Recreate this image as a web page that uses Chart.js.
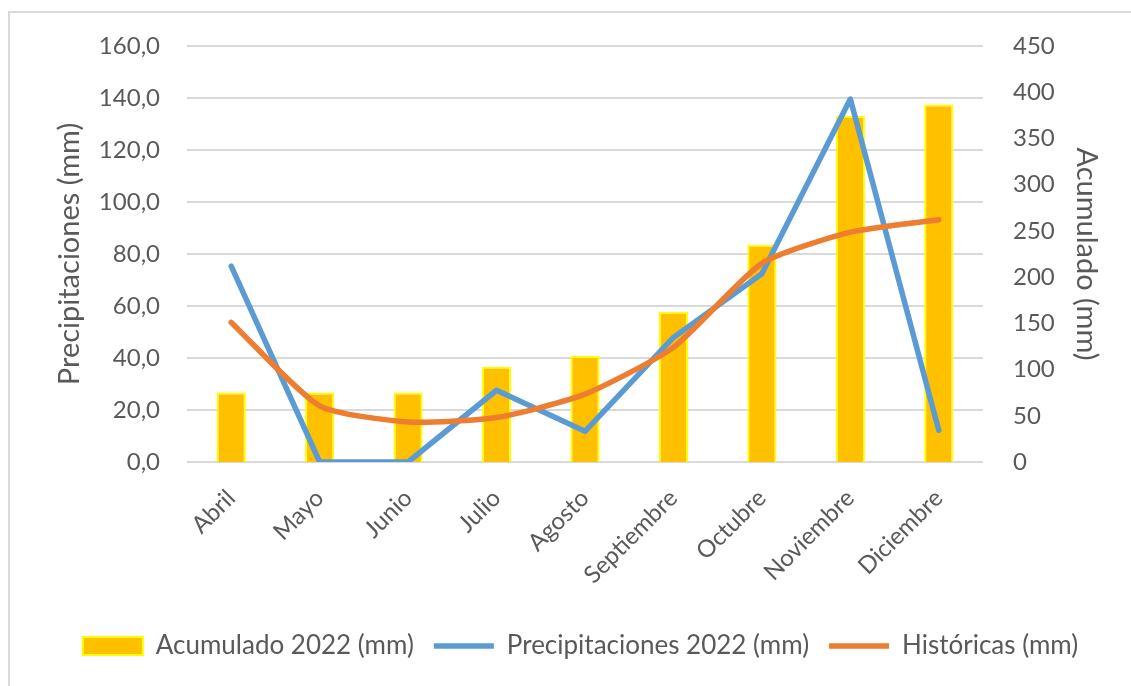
<!DOCTYPE html>
<html lang="es">
<head>
<meta charset="utf-8">
<title>Precipitaciones 2022</title>
<script src="https://cdn.jsdelivr.net/npm/chart.js@4/dist/chart.umd.min.js"></script>
<style>
  html, body { margin: 0; padding: 0; background: #ffffff; overflow: hidden; }
  #frame {
    position: absolute; left: 8px; top: 11px; width: 1140px; height: 700px;
    border: 2px solid #d9d9d9; box-sizing: border-box;
  }
  #wrap { position: absolute; left: 0; top: 0; width: 1131px; height: 686px; }
</style>
</head>
<body>
<div id="frame"></div>
<div id="wrap"><canvas id="chart" width="1131" height="686"></canvas></div>
<script>
// Meses del período
const meses = ['Abril', 'Mayo', 'Junio', 'Julio', 'Agosto', 'Septiembre', 'Octubre', 'Noviembre', 'Diciembre'];
// Precipitación mensual 2022 (mm)
const precipitaciones2022 = [75.3, 0, 0, 27.6, 11.8, 47.9, 72.4, 139.6, 12.2];
// Precipitación acumulada 2022 (mm)
const acumulado2022 = [75.3, 75.3, 75.3, 102.9, 114.7, 162.6, 235.0, 374.6, 386.8];
// Promedios históricos (mm)
const historicas = [53.7, 21.6, 15.4, 17.1, 26.1, 44.1, 76.4, 88.4, 93.2];

const FONT = 'Lato, "Noto Sans", sans-serif';
const GRIS = '#595959';
const SIZE = 24;
const SIZE_TITULO = 29;
const SIZE_LEYENDA = 26;

// Centra la leyenda respecto al área de trazado y no al lienzo completo
const desplazarLeyenda = {
  id: 'desplazarLeyenda',
  afterLayout(chart) {
    const l = chart.legend;
    if (l) { l.left += 15; l.right += 15; }
  }
};

new Chart(document.getElementById('chart'), {
  type: 'bar',
  plugins: [desplazarLeyenda],
  data: {
    labels: meses,
    datasets: [
      {
        type: 'bar',
        label: 'Acumulado 2022 (mm)',
        data: acumulado2022,
        yAxisID: 'yDer',
        backgroundColor: '#FFC000',
        borderColor: '#FFFF00',
        borderWidth: 2,
        categoryPercentage: 1,
        barPercentage: 0.33,
        pointStyle: 'rect',
        order: 3
      },
      {
        type: 'line',
        label: 'Precipitaciones 2022 (mm)',
        data: precipitaciones2022,
        yAxisID: 'yIzq',
        borderColor: '#5B9BD5',
        backgroundColor: '#5B9BD5',
        borderWidth: 5.5,
        borderCapStyle: 'round',
        borderJoinStyle: 'round',
        pointRadius: 0,
        pointHoverRadius: 0,
        tension: 0,
        pointStyle: 'line',
        order: 2
      },
      {
        type: 'line',
        label: 'Históricas (mm)',
        data: historicas,
        yAxisID: 'yIzq',
        borderColor: '#ED7D31',
        backgroundColor: '#ED7D31',
        borderWidth: 5.5,
        borderCapStyle: 'round',
        borderJoinStyle: 'round',
        pointRadius: 0,
        pointHoverRadius: 0,
        tension: 0.2,
        pointStyle: 'line',
        order: 1
      }
    ]
  },
  options: {
    responsive: false,
    animation: false,
    layout: { padding: { top: 46, left: 0, right: 0, bottom: 17 } },
    plugins: {
      tooltip: { enabled: false },
      legend: {
        position: 'bottom',
        labels: {
          usePointStyle: true,
          pointStyleWidth: 60,
          boxHeight: 18,
          padding: 20,
          color: GRIS,
          font: { family: FONT, size: SIZE_LEYENDA },
          sort: (a, b) => a.datasetIndex - b.datasetIndex
        }
      }
    },
    scales: {
      x: {
        grid: { display: false },
        border: { display: false },
        ticks: {
          color: GRIS,
          font: { family: FONT, size: SIZE },
          maxRotation: 45,
          minRotation: 45,
          padding: 14
        },
        afterFit: (s) => { s.height = 151; }
      },
      yIzq: {
        type: 'linear',
        position: 'left',
        min: 0,
        max: 160,
        border: { display: false },
        grid: { color: '#d9d9d9', lineWidth: 2, drawTicks: false },
        ticks: {
          stepSize: 20,
          padding: 27,
          color: GRIS,
          font: { family: FONT, size: SIZE },
          callback: (v) => v.toFixed(1).replace('.', ',')
        },
        title: {
          display: true,
          text: 'Precipitaciones (mm)',
          color: GRIS,
          font: { family: FONT, size: SIZE_TITULO },
          padding: { top: 52, bottom: 0 }
        },
        afterFit: (s) => { s.width = 187; }
      },
      yDer: {
        type: 'linear',
        position: 'right',
        min: 0,
        max: 450,
        border: { display: false },
        grid: { display: false, drawTicks: false },
        ticks: {
          stepSize: 50,
          padding: 30,
          color: GRIS,
          font: { family: FONT, size: SIZE }
        },
        title: {
          display: true,
          text: 'Acumulado (mm)',
          color: GRIS,
          font: { family: FONT, size: SIZE_TITULO },
          padding: { top: 27, bottom: 0 }
        },
        afterFit: (s) => { s.width = 148; }
      }
    }
  }
});
</script>
</body>
</html>
